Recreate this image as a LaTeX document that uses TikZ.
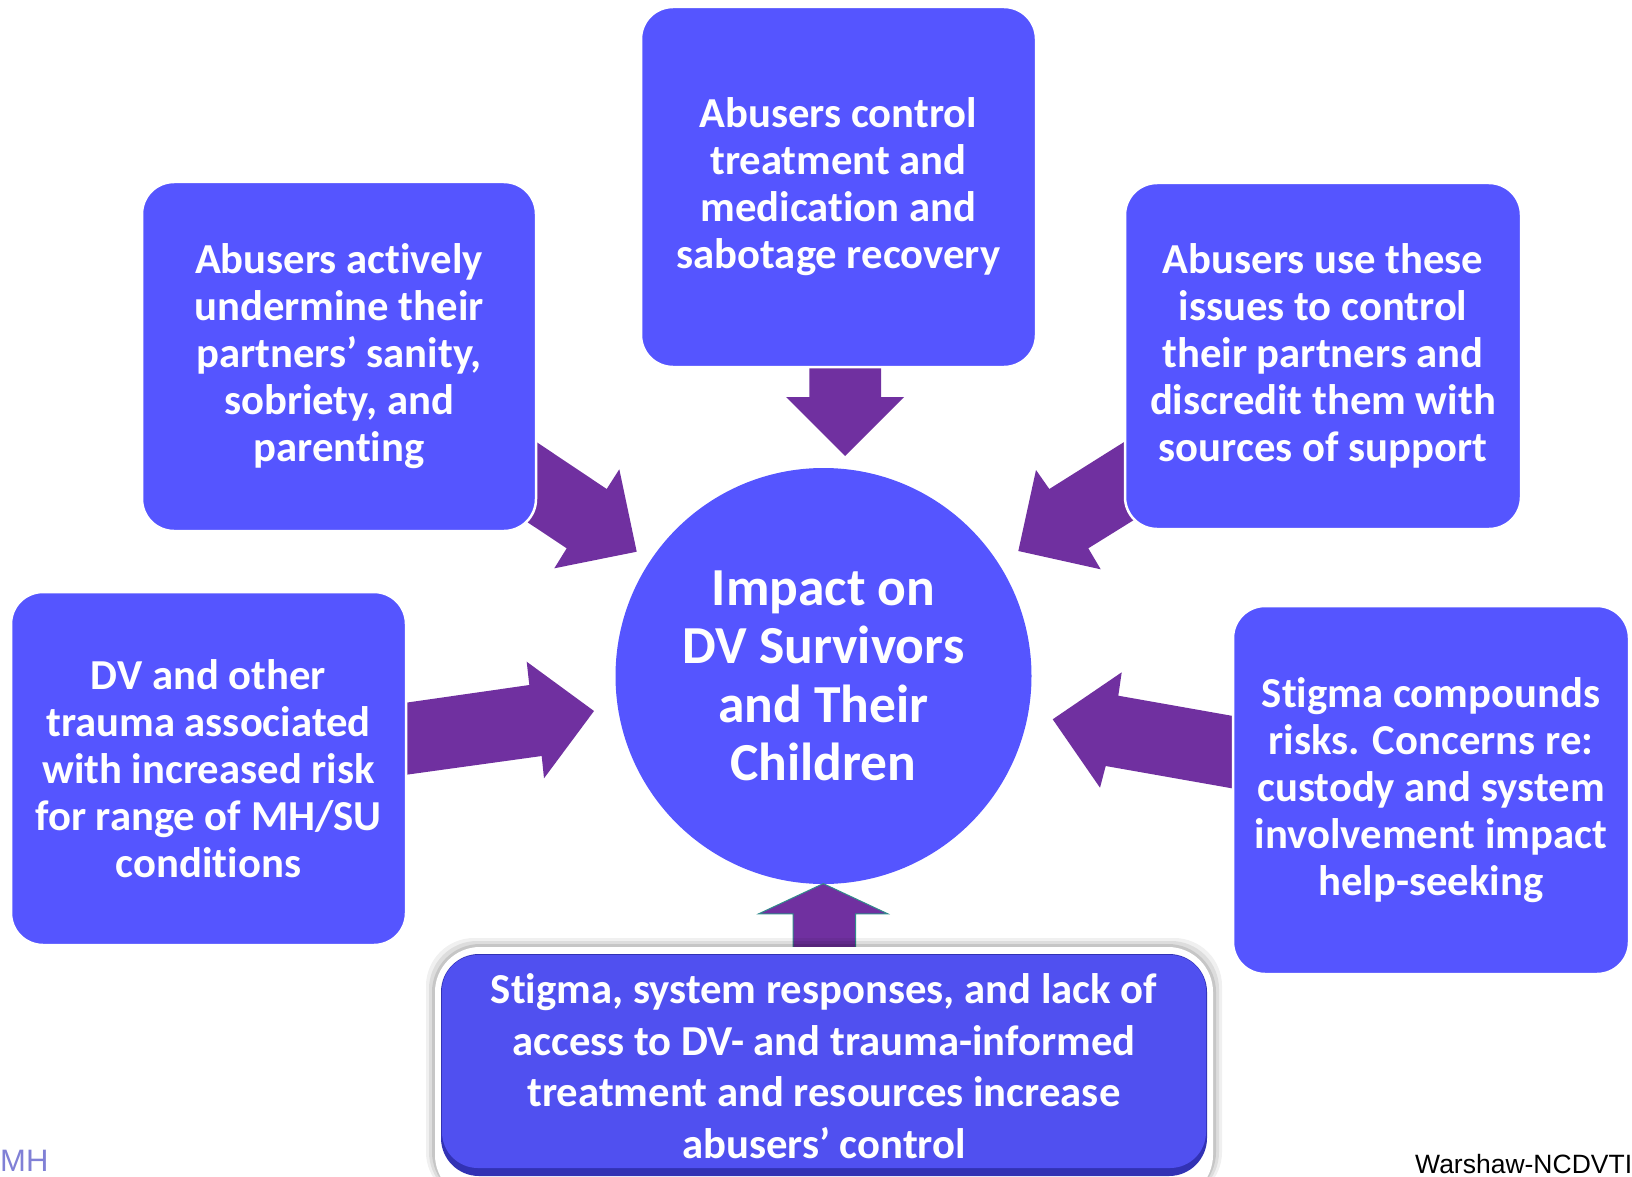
\documentclass[tikz,border=0pt]{standalone}
\usepackage{fontspec}
\setmainfont{Carlito}[Ligatures={NoCommon}]
\newfontfamily\footfont{Liberation Sans}
\definecolor{boxblue}{RGB}{85,85,255}
\definecolor{arrowpurple}{RGB}{112,48,160}
\definecolor{botblue}{RGB}{80,80,240}
\definecolor{botdark}{RGB}{50,50,180}
\definecolor{mhcol}{RGB}{128,128,214}
\definecolor{arrowedge}{RGB}{50,140,140}
\begin{document}
\begin{tikzpicture}[x=1pt,y=-1pt,
  box/.style={draw=white, line width=2.5pt, fill=boxblue, rounded corners=32pt,
    text=white, align=center, inner sep=0pt,
    font=\bfseries\fontsize{42.7}{47}\selectfont},
  hub/.style={circle, fill=boxblue, draw=none, minimum size=416pt, inner sep=0pt,
    text=white, align=center, font=\bfseries\fontsize{53.5}{58.5}\selectfont},
  bigarrow/.style={fill=arrowpurple, draw=none},
  foot/.style={inner sep=0pt, font=\footfont\fontsize{26.5}{30}\selectfont}]
\useasboundingbox (0,0) rectangle (1632,1177);
\clip (0,0) rectangle (1632,1177);
\fill[white] (0,0) rectangle (1632,1177);

% block arrows (behind boxes)
\fill[bigarrow] (514,427) -- (606.7,489) -- (619.3,469.3) -- (636.7,551.7)
  -- (554.3,568.3) -- (566.7,548.3) -- (503,506) -- cycle;
\fill[bigarrow] (1148,427) -- (1049.3,489) -- (1036,470) -- (1018.3,551)
  -- (1100.7,569.3) -- (1088.3,548.3) -- (1158,505) -- cycle;
\fill[bigarrow] (809.3,350) -- (881,350) -- (881,397) -- (904,397)
  -- (845,456) -- (786,397) -- (809.3,397) -- cycle;
\fill[bigarrow] (390,705) -- (529.3,685) -- (526.7,661.7) -- (594,711)
  -- (544,778.3) -- (541.7,756) -- (390,777) -- cycle;
\fill[bigarrow] (1250,719) -- (1118.3,695.7) -- (1121.7,672.3) -- (1052.7,719.3)
  -- (1100,787.7) -- (1105.7,766) -- (1250,791.5) -- cycle;

% boxes
\node[box, minimum width=395pt, minimum height=360pt] (top) at (838.5,187)
  {Abusers control\\treatment and\\medication and\\sabotage recovery};
\node[box, minimum width=394pt, minimum height=349pt] (lu) at (339,356.5)
  {Abusers actively\\undermine their\\partners’ sanity,\\sobriety, and\\parenting};
\node[box, minimum width=396pt, minimum height=346pt] (ru) at (1323,356)
  {Abusers use these\\issues to control\\their partners and\\discredit them with\\sources of support};
\node[box, minimum width=395pt, minimum height=353pt] (ll) at (208.5,768.5)
  {DV and other\\trauma associated\\with increased risk\\for range of MH/SU\\conditions};
\node[box, minimum width=396pt, minimum height=368pt] (rl) at (1431,790)
  {Stigma compounds\\risks. Concerns re:\\custody and system\\involvement impact\\help-seeking};

% hub
\node[hub] (hub) at (823.5,676) {Impact on\\DV Survivors\\and Their\\Children};

% up arrow
\fill[arrowpurple, draw=arrowedge, line width=1pt] (793,962) -- (793,913.8) -- (758.7,913.8)
  -- (823.3,883.6) -- (887.8,913.8) -- (855.5,913.8) -- (855.5,962) -- cycle;

% bottom box with shadow
\foreach \s/\o in {9/0.06,6/0.08,3/0.10}{
  \fill[black, opacity=\o, rounded corners=48pt] (435-\s,947-\s) rectangle (1213+\s,1200);
}
\fill[white, rounded corners=45pt] (435,947) rectangle (1213,1200);
\fill[botdark, rounded corners=38pt] (441,954) rectangle (1207,1176);
\fill[botblue, rounded corners=36pt] (442,955) rectangle (1206,1168);
\node[inner sep=0pt, text=white, align=center,
  font=\bfseries\fontsize{42.7}{51.5}\selectfont] (bottom) at (824,1066)
  {Stigma, system responses, and lack of\\access to DV- and trauma-informed\\treatment and resources increase\\abusers’ control};

% footers
\node[foot, text=mhcol, font=\footfont\fontsize{31}{34}\selectfont, anchor=base west] (mh) at (0,1171.5) {MH};
\node[foot, text=black, anchor=base west] (credit) at (1415,1173.3) {Warshaw-NCDVTI};
\end{tikzpicture}
\end{document}
